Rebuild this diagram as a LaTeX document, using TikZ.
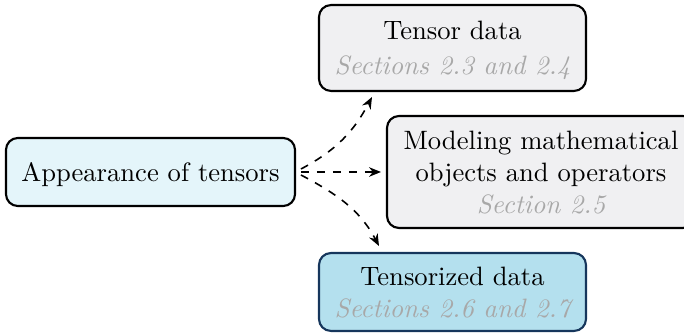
\documentclass[tikz,border=0pt]{standalone}
\usetikzlibrary{arrows.meta}
\definecolor{leftfill}{HTML}{E4F5FA}
\definecolor{grayfill}{HTML}{F0F0F2}
\definecolor{bluefill}{HTML}{B4E0EE}
\definecolor{blueborder}{HTML}{16365C}
\definecolor{secgray}{HTML}{A8A8A8}
\newcommand{\secref}[1]{{\color{secgray}\itshape #1}}
\begin{document}
\begin{tikzpicture}[x=0.376pt,y=-0.376pt,
  box/.style={draw, line width=0.8pt, rounded corners=4.5pt, align=center, inner sep=0pt, font=\normalsize, text depth=0pt},
  conn/.style={dashed, line width=0.6pt, -{Stealth[length=4.5pt,width=3.6pt]}}]
\useasboundingbox (0,0) rectangle (684,333);
\node[box, fill=leftfill, minimum width=108.7pt, minimum height=25.6pt] (app) at (150.5,172) {Appearance of tensors};
\node[box, fill=grayfill, minimum width=100.4pt, minimum height=32.3pt] (td) at (452.5,48) {Tensor data\\[1pt]\secref{Sections 2.3 and 2.4}};
\node[box, fill=grayfill, minimum width=115.8pt, minimum height=42.1pt] (mod) at (541,172) {Modeling mathematical\\objects and operators\\\secref{Section 2.5}};
\node[box, fill=bluefill, draw=blueborder, minimum width=100.4pt, minimum height=29.3pt] (tzd) at (452.5,292) {Tensorized data\\\secref{Sections 2.6 and 2.7}};
\coordinate (s1) at (301,169);
\coordinate (s2) at (301,172);
\coordinate (s3) at (301,175);
\coordinate (e1) at (372,97);
\coordinate (e2) at (381,172);
\coordinate (e3) at (379,246);
\draw[conn] (s1) to[out=28,in=-118] (e1);
\draw[conn] (s2) -- (e2);
\draw[conn] (s3) to[out=-28,in=118] (e3);
\end{tikzpicture}
\end{document}
